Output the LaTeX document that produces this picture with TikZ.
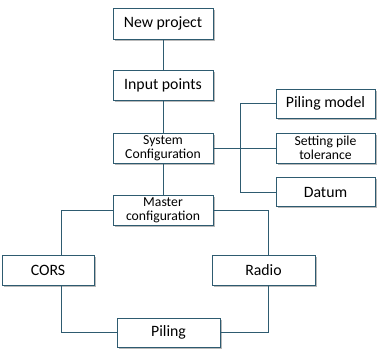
\documentclass[tikz,border=0pt]{standalone}
\usepackage{fontspec}
\setmainfont{Carlito}
\usetikzlibrary{shadows}
\definecolor{edge}{HTML}{2E5B70}
\begin{document}
\begin{tikzpicture}[x=1pt,y=-1pt,
  box/.style={draw=edge, line width=0.8pt, fill=white, inner sep=0pt, align=center,
    drop shadow={shadow xshift=1.6pt, shadow yshift=-1.6pt, fill=gray!55, opacity=1}},
  big/.style={font=\fontsize{15.8}{17}\selectfont},
  small/.style={font=\fontsize{13.7}{14}\selectfont},
  link/.style={draw=edge, line width=0.8pt}]
\useasboundingbox (0,0) rectangle (377,353);
\node[box,big,minimum width=100pt,minimum height=31pt] (new) at (163,23.5) {New project};
\node[box,big,minimum width=100pt,minimum height=30pt] (inp) at (163,85) {Input points};
\node[box,small,minimum width=100pt,minimum height=30pt] (sys) at (163,148) {System\\Configuration};
\node[box,small,minimum width=100pt,minimum height=30pt] (mas) at (163,210) {Master\\configuration};
\node[box,big,minimum width=99pt,minimum height=29pt] (pm) at (325.5,103.5) {Piling model};
\node[box,small,minimum width=99pt,minimum height=30pt] (set) at (325.5,148) {Setting pile\\tolerance};
\node[box,big,minimum width=99pt,minimum height=29pt] (dat) at (325.5,192) {Datum};
\node[box,big,minimum width=92pt,minimum height=30pt] (cors) at (48,270) {CORS};
\node[box,big,minimum width=103pt,minimum height=30pt] (rad) at (263.5,270) {Radio};
\node[box,big,minimum width=103pt,minimum height=29pt] (pil) at (168.5,332.5) {Piling};
\draw[link] (new) -- (inp);
\draw[link] (inp) -- (sys);
\draw[link] (sys) -- (mas);
\draw[link] (sys.east) -- (set.west);
\draw[link] (pm.west) -- ++(-35,0) coordinate (br) |- (dat.west);
\draw[link] (mas.west) -| ([xshift=13pt]cors.north);
\draw[link] (mas.east) -| ([xshift=4.5pt]rad.north);
\draw[link] ([xshift=13pt]cors.south) |- (pil.west);
\draw[link] ([xshift=4.5pt]rad.south) |- (pil.east);
\end{tikzpicture}
\end{document}
